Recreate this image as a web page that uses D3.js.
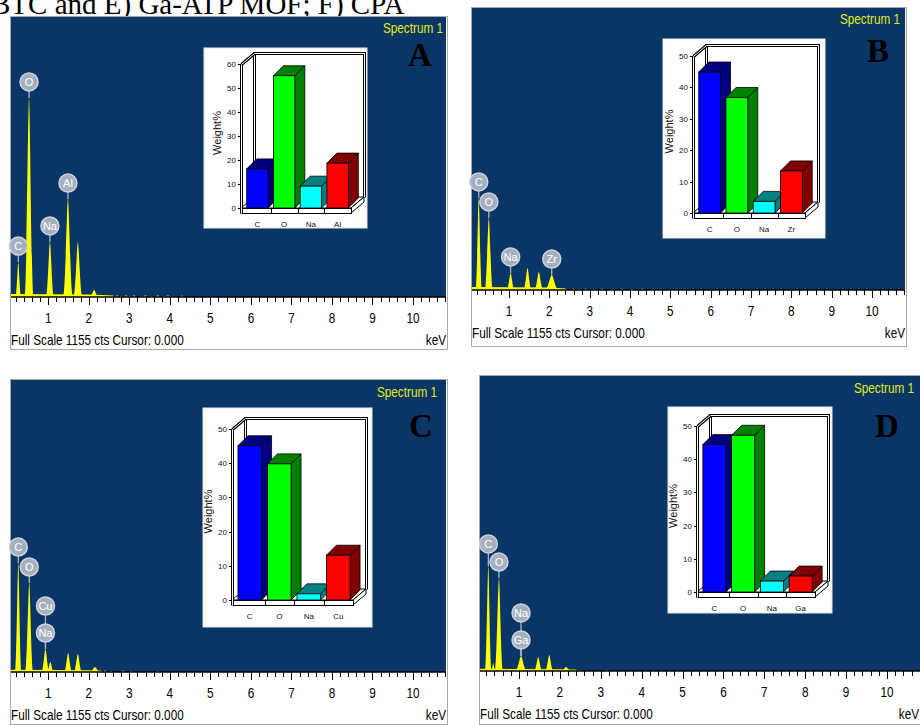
<!DOCTYPE html>
<html>
<head>
<meta charset="utf-8">
<script src="https://cdn.jsdelivr.net/npm/d3@7"></script>
<style>
  body { margin: 0; background: #fff; }
  svg { display: block; }
</style>
</head>
<body>
<svg id="fig" width="920" height="725"></svg>
<script>
// ---------------- data ----------------
const captionText = "BTC and E) Ga-ATP MOF; F) CPA";
const spectrumTitle = "Spectrum 1";
const footerText = "Full Scale 1155 cts Cursor: 0.000";
const unitText = "keV";
const fullScaleCts = 1155;
const keVTickLabels = [1, 2, 3, 4, 5, 6, 7, 8, 9, 10];

// EDS peaks: [energy keV, counts, half base width keV]
const peaksA = [[0.26, 144, 0.07], [0.525, 821, 0.11], [0.72, 6, 0.04], [1.04, 227, 0.1],
                [1.485, 404, 0.12], [1.73, 227, 0.11], [2.13, 29, 0.11]];
const peaksB = [[0.25, 377, 0.08], [0.50, 295, 0.1], [1.04, 70, 0.1], [1.46, 90, 0.1],
                [1.74, 74, 0.11], [2.06, 61, 0.17]];
const peaksC = [[0.26, 431, 0.08], [0.53, 352, 0.1], [0.93, 91, 0.1], [1.05, 40, 0.09],
                [1.49, 75, 0.1], [1.73, 71, 0.1], [2.15, 20, 0.13]];
const peaksD = [[0.25, 411, 0.08], [0.37, 31, 0.05], [0.51, 364, 0.1], [1.05, 59, 0.14],
                [1.47, 55, 0.1], [1.74, 63, 0.1], [2.15, 16, 0.13]];

// continuum: [energy keV, counts]
const backgroundA = [[0.05, 12], [1.0, 11], [2.0, 10], [2.6, 6], [2.65, 0]];
const backgroundB = [[0.05, 12], [1.0, 11], [2.0, 10], [2.4, 6], [2.45, 0]];
const backgroundC = [[0.05, 9], [1.0, 8], [2.0, 7], [2.3, 5], [2.35, 0]];
const backgroundD = [[0.05, 9], [1.0, 8], [2.0, 7], [2.4, 5], [2.45, 0]];

// isolated low-count channels: [energy keV, counts]
const specksA = [[2.7, 6], [2.8, 4], [2.92, 6], [3.02, 4], [3.12, 6], [3.3, 4], [3.4, 6],
                 [3.55, 4], [3.7, 6], [3.85, 4], [3.95, 6], [4.3, 5]];
const specksB = [[2.6, 5], [2.75, 4], [2.9, 5], [3.1, 4], [3.3, 5], [3.55, 4], [3.8, 5],
                 [4.05, 4], [4.3, 5], [4.55, 4]];
const specksC = [[2.4, 5], [2.55, 4], [2.85, 5], [3.05, 4], [3.7, 4]];
const specksD = [[2.35, 5], [2.5, 4], [3.15, 4]];

// peak markers: [element, energy keV, stack level]
const peakLabelsA = [["C", 0.26, 0], ["O", 0.525, 0], ["Na", 1.04, 0], ["Al", 1.485, 0]];
const peakLabelsB = [["C", 0.25, 0], ["O", 0.50, 0], ["Na", 1.04, 0], ["Zr", 2.06, 0]];
const peakLabelsC = [["C", 0.26, 0], ["O", 0.53, 0], ["Na", 0.93, 0], ["Cu", 0.93, 1]];
const peakLabelsD = [["C", 0.25, 0], ["O", 0.51, 0], ["Ga", 1.05, 0], ["Na", 1.05, 1]];

// quantification (Weight%)
const elementsA = ["C", "O", "Na", "Al"];
const weightA = [16.3, 55.1, 9.1, 18.7];
const elementsB = ["C", "O", "Na", "Zr"];
const weightB = [44.9, 36.8, 3.7, 13.4];
const elementsC = ["C", "O", "Na", "Cu"];
const weightC = [45.1, 39.8, 1.8, 13.1];
const elementsD = ["C", "O", "Na", "Ga"];
const weightD = [44.4, 47.2, 3.3, 4.8];
const weightTicks60 = [0, 10, 20, 30, 40, 50, 60];
const weightTicks50 = [0, 10, 20, 30, 40, 50];
const weightAxisTitle = "Weight%";

// ---------------- styling ----------------
const BLUE = "#093667";
const YELLOW = "#ffff00";
const TITLE_YELLOW = "#e2ec1c";
const FRONT = ["#0000ff", "#00ff00", "#00ffff", "#ff0000"];
const SHADE = ["#000080", "#008000", "#008080", "#800000"];
const SANS = "Liberation Sans, Arial, Helvetica, sans-serif";
const SERIF = "Liberation Serif, Times New Roman, serif";
const NARROW_X = 0.84;   // horizontal condensing for the analyser's narrow UI font

const panels = [
  { letter: "A", peaks: peaksA, bg: backgroundA, specks: specksA, labels: peakLabelsA,
    elements: elementsA, weights: weightA, wTicks: weightTicks60,
    frame: [10, 16, 447, 349], plot: [11, 17, 446, 297], k1: 48.3, k10: 413,
    letterPos: [420, 66], titleRight: 443, titleY: 33, unitRight: 446,
    inset: { box: [204, 48, 367, 228], axisX: 241, zeroY: 208, topY: 64, right: 351 } },
  { letter: "B", peaks: peaksB, bg: backgroundB, specks: specksB, labels: peakLabelsB,
    elements: elementsB, weights: weightB, wTicks: weightTicks50,
    frame: [471, 7, 906, 346], plot: [472, 8, 905, 290], k1: 509, k10: 872,
    letterPos: [878, 62], titleRight: 900, titleY: 24, unitRight: 905,
    inset: { box: [663, 39, 825, 238], axisX: 693, zeroY: 213, topY: 56, right: 805 } },
  { letter: "C", peaks: peaksC, bg: backgroundC, specks: specksC, labels: peakLabelsC,
    elements: elementsC, weights: weightC, wTicks: weightTicks50,
    frame: [10, 379, 447, 724], plot: [11, 380, 446, 672], k1: 48.3, k10: 413,
    letterPos: [421, 437], titleRight: 437, titleY: 397, unitRight: 446,
    inset: { box: [203, 408, 372, 627], axisX: 232, zeroY: 600, topY: 429, right: 353 } },
  { letter: "D", peaks: peaksD, bg: backgroundD, specks: specksD, labels: peakLabelsD,
    elements: elementsD, weights: weightD, wTicks: weightTicks50,
    frame: [479, 375, 925, 724], plot: [480, 376, 925, 671], k1: 519, k10: 887,
    letterPos: [887, 437], titleRight: 914, titleY: 393, unitRight: 919,
    inset: { box: [668, 407, 832, 613], axisX: 697, zeroY: 592, topY: 426, right: 815 } }
];

const svg = d3.select("#fig");

// figure caption line (top strip)
svg.append("text")
  .attr("x", -9).attr("y", 14)
  .attr("font-family", SERIF).attr("font-size", 29)
  .attr("fill", "#000")
  .text(captionText);

// condensed UI text: anchor at (x, y), squeezed horizontally
function narrowText(g, x, y, str, size, anchor, fill) {
  return g.append("text")
    .attr("transform", `translate(${x},${y}) scale(${NARROW_X},1)`)
    .attr("text-anchor", anchor).attr("font-family", SANS).attr("font-size", size)
    .attr("fill", fill).text(str);
}

function peakPath(x, y, base, e, c, hw) {
  const xc = x(e), xl = x(e - hw), xr = x(e + hw), yt = y(c);
  const wl = xc - xl, wr = xr - xc;
  return `M${xl},${base}C${xl + wl * 0.45},${base} ${xc - wl * 0.22},${yt} ${xc},${yt}` +
         `C${xc + wr * 0.22},${yt} ${xr - wr * 0.45},${base} ${xr},${base}Z`;
}

const crisp = v => Math.round(v) + 0.5;

function doubleLine(g, pts) {
  const line = d3.line();
  const p2 = pts.map(([a, b]) => [crisp(a), crisp(b)]);
  g.append("path").attr("d", line(p2)).attr("fill", "none")
    .attr("stroke", "#000").attr("stroke-width", 3).attr("stroke-linejoin", "miter");
  g.append("path").attr("d", line(p2)).attr("fill", "none")
    .attr("stroke", "#fff").attr("stroke-width", 1).attr("stroke-linejoin", "miter");
}

function drawInset(g, cfg, elements, weights, ticks) {
  const [bx0, by0, bx1, by1] = cfg.box;
  const { axisX, zeroY, topY, right } = cfg;
  const ymax = ticks[ticks.length - 1];
  const ys = d3.scaleLinear().domain([0, ymax]).range([zeroY, topY]);
  const xb = d3.scaleBand().domain(elements).range([axisX + 3, right])
    .paddingInner(0.2).paddingOuter(0.1);
  const dx = 13, dy = -11, slab = 5, bdx = 10, bdy = -10;

  g.append("rect").attr("x", bx0).attr("y", by0)
    .attr("width", bx1 - bx0).attr("height", by1 - by0)
    .attr("fill", "#fff").attr("stroke", "#e6e6e6").attr("stroke-width", 1);

  // back wall and left wall edges
  doubleLine(g, [[axisX + dx, zeroY + dy], [axisX + dx, topY + dy], [right + dx, topY + dy], [right + dx, zeroY + dy]]);
  doubleLine(g, [[axisX, topY], [axisX + dx, topY + dy]]);

  // floor slab
  g.append("path")
    .attr("d", d3.line()([[axisX, zeroY], [right, zeroY], [right + dx, zeroY + dy], [axisX + dx, zeroY + dy]]) + "Z")
    .attr("fill", "#fff").attr("stroke", "#000").attr("stroke-width", 1);
  g.append("path")
    .attr("d", d3.line()([[right, zeroY], [right + dx, zeroY + dy], [right + dx, zeroY + dy + slab], [right, zeroY + slab]]) + "Z")
    .attr("fill", "#fff").attr("stroke", "#000").attr("stroke-width", 1);
  g.append("rect").attr("x", crisp(axisX)).attr("y", crisp(zeroY))
    .attr("width", Math.round(right - axisX)).attr("height", slab)
    .attr("fill", "#fff").attr("stroke", "#000").attr("stroke-width", 1);
  elements.slice(1).forEach(el => {
    const xs = crisp(xb(el) - xb.step() * xb.paddingInner() / 2);
    g.append("line").attr("x1", xs).attr("x2", xs).attr("y1", zeroY).attr("y2", zeroY + slab)
      .attr("stroke", "#000").attr("stroke-width", 1);
  });

  // front value axis
  doubleLine(g, [[axisX, topY], [axisX, zeroY + slab]]);
  ticks.forEach(t => {
    g.append("line").attr("x1", axisX - 3).attr("x2", axisX).attr("y1", crisp(ys(t))).attr("y2", crisp(ys(t)))
      .attr("stroke", "#000").attr("stroke-width", 1);
    g.append("text").attr("x", axisX - 5).attr("y", ys(t) + 3)
      .attr("text-anchor", "end").attr("font-family", SANS).attr("font-size", 8)
      .attr("fill", "#111").text(t);
  });

  // 3-D bars
  elements.forEach((el, i) => {
    const x0 = xb(el), x1 = x0 + xb.bandwidth(), yt = ys(weights[i]);
    g.append("path")
      .attr("d", d3.line()([[x1, yt], [x1 + bdx, yt + bdy], [x1 + bdx, zeroY + bdy], [x1, zeroY]]) + "Z")
      .attr("fill", SHADE[i]).attr("stroke", "#000").attr("stroke-width", 0.8);
    g.append("path")
      .attr("d", d3.line()([[x0, yt], [x0 + bdx, yt + bdy], [x1 + bdx, yt + bdy], [x1, yt]]) + "Z")
      .attr("fill", SHADE[i]).attr("stroke", "#000").attr("stroke-width", 0.8);
    g.append("rect").attr("x", x0).attr("y", yt)
      .attr("width", x1 - x0).attr("height", zeroY - yt)
      .attr("fill", FRONT[i]).attr("stroke", "#000").attr("stroke-width", 0.8);
    g.append("text").attr("x", x0 + xb.bandwidth() / 2).attr("y", zeroY + 18.5)
      .attr("text-anchor", "middle").attr("font-family", SANS).attr("font-size", 8)
      .attr("fill", "#111").text(el);
  });

  g.append("text")
    .attr("transform", `translate(${axisX - 20},${(topY + zeroY) / 2 - 3}) rotate(-90)`)
    .attr("text-anchor", "middle").attr("font-family", SANS).attr("font-size", 11)
    .attr("fill", "#111").text(weightAxisTitle);
}

panels.forEach((p, pi) => {
  const g = svg.append("g");
  const [fx0, fy0, fx1, fy1] = p.frame;
  const [px0, py0, px1, py1] = p.plot;

  g.append("rect").attr("x", fx0 + 0.5).attr("y", fy0 + 0.5)
    .attr("width", fx1 - fx0).attr("height", fy1 - fy0)
    .attr("fill", "#fff").attr("stroke", "#a8a8a8").attr("stroke-width", 1);
  g.append("rect").attr("x", px0).attr("y", py0)
    .attr("width", px1 - px0).attr("height", py1 - py0).attr("fill", BLUE);

  const x = d3.scaleLinear().domain([1, 10]).range([p.k1, p.k10]);
  const y = d3.scaleLinear().domain([0, fullScaleCts]).range([py1, py0]);

  const clipId = "clip" + pi;
  g.append("clipPath").attr("id", clipId).append("rect")
    .attr("x", px0).attr("y", py0).attr("width", px1 - px0).attr("height", py1 - py0);
  const spec = g.append("g").attr("clip-path", `url(#${clipId})`);

  spec.append("path").datum(p.bg)
    .attr("d", d3.area().x(d => x(d[0])).y0(py1).y1(d => y(d[1])))
    .attr("fill", YELLOW);
  p.peaks.forEach(pk => {
    spec.append("path").attr("d", peakPath(x, y, py1, pk[0], pk[1], pk[2])).attr("fill", YELLOW);
  });
  p.specks.forEach(s => {
    spec.append("rect").attr("x", x(s[0]) - 1).attr("y", y(s[1]))
      .attr("width", 2).attr("height", py1 - y(s[1])).attr("fill", YELLOW);
  });

  // energy axis
  g.append("line").attr("x1", px0).attr("x2", px1).attr("y1", py1).attr("y2", py1)
    .attr("stroke", "#000").attr("stroke-width", 1.5);
  const kMax = x.invert(px1);
  d3.range(0.2, kMax, 0.2).forEach(k => {
    const isMajor = Math.abs(k - Math.round(k)) < 1e-6;
    const xk = crisp(x(k));
    g.append("line").attr("x1", xk).attr("x2", xk)
      .attr("y1", py1).attr("y2", py1 + (isMajor ? 8 : 5))
      .attr("stroke", "#000").attr("stroke-width", 1);
  });
  keVTickLabels.forEach(k => narrowText(g, x(k), py1 + 26, k, 14, "middle", "#000"));
  narrowText(g, px0, py1 + 48, footerText, 14, "start", "#000");
  narrowText(g, p.unitRight, py1 + 48, unitText, 14, "end", "#000");
  narrowText(g, p.titleRight, p.titleY, spectrumTitle, 14, "end", TITLE_YELLOW);

  // peak markers, placed from high to low energy so lower-energy markers lift clear
  const placed = [];
  p.labels.slice().reverse().forEach(([el, e, level]) => {
    const pk = p.peaks.reduce((a, b) => Math.abs(b[0] - e) < Math.abs(a[0] - e) ? b : a);
    const cx = x(e), top = y(pk[1]);
    let cy = top - 16 - level * 27;
    if (level === 0) {
      placed.forEach(o => {
        const ddx = Math.abs(o[0] - cx);
        if (ddx > 0.5 && ddx < 21 && Math.hypot(ddx, o[1] - cy) < 21) {
          cy = Math.min(cy, o[1] - Math.sqrt(441 - ddx * ddx));
        }
      });
    }
    placed.push([cx, cy]);
    g.append("line").attr("x1", cx).attr("x2", cx).attr("y1", cy + 8).attr("y2", top)
      .attr("stroke", "#b8c0cc").attr("stroke-width", 1.2);
    g.append("circle").attr("cx", cx).attr("cy", cy).attr("r", 9)
      .attr("fill", "#a6afbe").attr("stroke", "#cdd3dc").attr("stroke-width", 1.5);
    g.append("text").attr("x", cx).attr("y", cy + 4)
      .attr("text-anchor", "middle").attr("font-family", SANS).attr("font-size", 11)
      .attr("fill", "#fff").text(el);
  });

  drawInset(g, p.inset, p.elements, p.weights, p.wTicks);

  g.append("text").attr("x", p.letterPos[0]).attr("y", p.letterPos[1])
    .attr("text-anchor", "middle").attr("font-family", SERIF).attr("font-weight", "bold")
    .attr("font-size", 33).attr("fill", "#000").text(p.letter);
});
</script>
</body>
</html>
